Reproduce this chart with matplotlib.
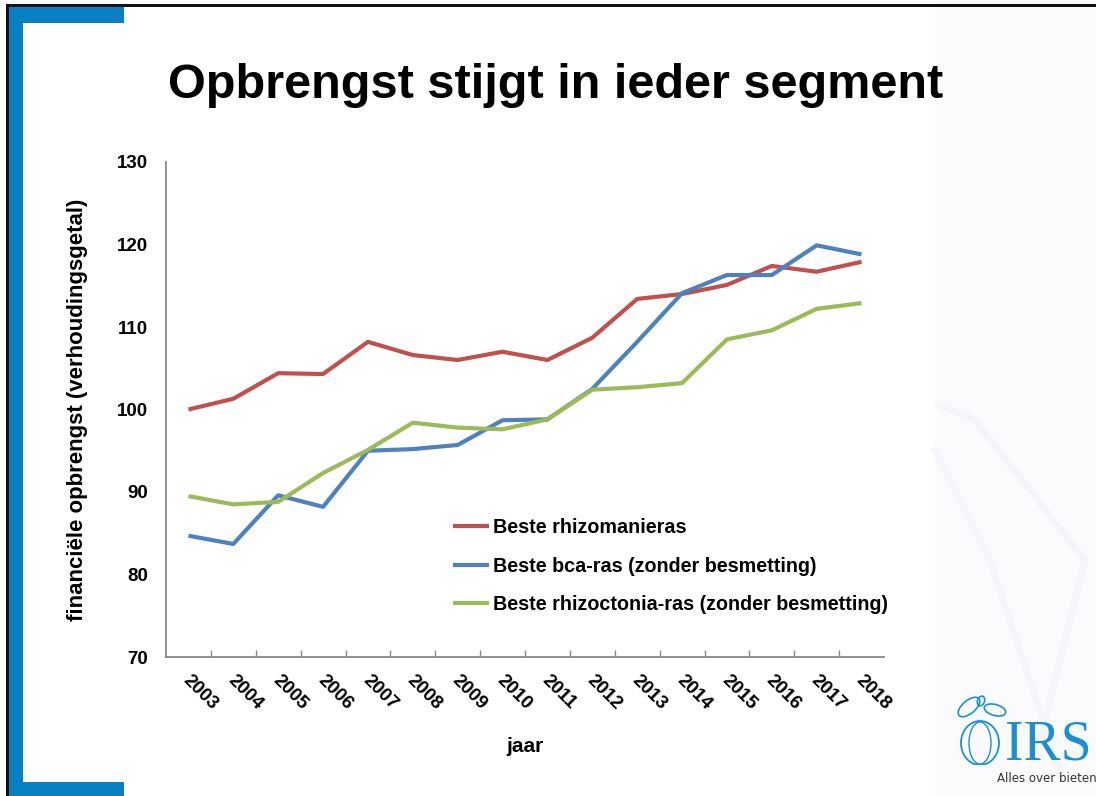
import matplotlib
matplotlib.use("Agg")
import matplotlib.pyplot as plt
import matplotlib.transforms as mtransforms
from matplotlib.patches import Rectangle, Ellipse
from matplotlib.lines import Line2D

years = [str(y) for y in range(2003, 2019)]
rhizomania = [100.0, 101.3, 104.4, 104.3, 108.2, 106.6, 106.0, 107.0, 106.0, 108.7,
              113.4, 114.0, 115.1, 117.4, 116.7, 117.9]
bca = [84.7, 83.7, 89.6, 88.2, 95.0, 95.2, 95.7, 98.7, 98.8, 102.5,
       108.2, 114.1, 116.3, 116.3, 119.9, 118.8]
rhizoctonia = [89.5, 88.5, 88.8, 92.3, 95.1, 98.4, 97.8, 97.6, 98.8, 102.4,
               102.7, 103.2, 108.5, 109.6, 112.2, 112.9]
series_labels = ["Beste rhizomanieras",
                 "Beste bca-ras (zonder besmetting)",
                 "Beste rhizoctonia-ras (zonder besmetting)"]
yticks = [70, 80, 90, 100, 110, 120, 130]

plt.rcParams['font.family'] = ['Liberation Sans', 'DejaVu Sans']

W, H = 1096, 796
fig = plt.figure(figsize=(W / 100, H / 100), dpi=100)
fig.patch.set_facecolor('white')

def px_rect(x0, y0, x1, y1, color, z=0):
    fig.patches.append(Rectangle((x0 / W, 1 - y1 / H), (x1 - x0) / W, (y1 - y0) / H,
                                 transform=fig.transFigure, color=color, zorder=z, lw=0))

px_rect(935, 0, W, H, '#fbfbfd')
px_rect(6, 4, W, 7, '#111111')
px_rect(6, 4, 9, H, '#111111')
blue = '#0a80c4'
px_rect(9, 7, 23, 796, blue)
px_rect(9, 7, 124, 23, blue)
px_rect(9, 782, 124, 796, blue)

# faint watermark strokes
for xs, ys in [([940, 975, 1085, 1035], [405, 420, 560, 760]),
               ([935, 990, 1060], [450, 560, 770])]:
    fig.add_artist(Line2D([x / W for x in xs], [1 - y / H for y in ys],
                          transform=fig.transFigure, color='#f5f6fa', lw=5, zorder=0.5))

ax = fig.add_axes([166 / W, 1 - 657 / H, (884 - 166) / W, (657 - 162) / H])
ax.set_facecolor('none')
ax.set_zorder(1)
x = list(range(len(years)))
colors = ['#C0504D', '#4F81BD', '#9BBB59']
for vals, c, lab in zip([rhizomania, bca, rhizoctonia], colors, series_labels):
    ax.plot(x, vals, color=c, lw=3, label=lab, solid_capstyle='butt')

ax.set_xlim(-0.5, len(years) - 0.5)
ax.set_ylim(70, 130)
ax.set_yticks(yticks)
ax.set_yticklabels([str(v) for v in yticks], fontsize=13.5, fontweight='bold')
ax.tick_params(axis='y', length=0, pad=13)

ax.set_xticks([i + 0.5 for i in range(len(years) - 1)], minor=True)
ax.tick_params(axis='x', which='minor', direction='in', length=5, color='#888888', width=1)
ax.set_xticks(x)
ax.set_xticklabels(years, fontsize=13.5, fontweight='bold', rotation=-45,
                   ha='left', va='center', rotation_mode='anchor')
ax.tick_params(axis='x', which='major', length=0, pad=15)
offset = mtransforms.ScaledTranslation(-2 / 72, 0, fig.dpi_scale_trans)
for lbl in ax.get_xticklabels():
    lbl.set_transform(lbl.get_transform() + offset)

for s in ['top', 'right']:
    ax.spines[s].set_visible(False)
for s in ['left', 'bottom']:
    ax.spines[s].set_color('#888888')
    ax.spines[s].set_linewidth(1.3)

ax.set_xlabel('jaar', fontsize=15, fontweight='bold')
ax.set_ylabel('financiële opbrengst (verhoudingsgetal)', fontsize=16, fontweight='bold')
ax.yaxis.set_label_coords((88 - 166) / (884 - 166), 0.5)
ax.xaxis.set_label_coords(0.5, -(737 - 657) / (657 - 162))

leg = ax.legend(loc='center left', bbox_to_anchor=(453 / W, 1 - 566 / H),
                bbox_transform=fig.transFigure, frameon=False,
                prop={'family': ['Liberation Sans'], 'weight': 'bold', 'size': 14.2},
                handlelength=1.85, handletextpad=0.2, labelspacing=1.0, borderpad=0,
                borderaxespad=0)

fig.text(556 / W, 1 - 85 / H, 'Opbrengst stijgt in ieder segment', fontsize=35,
         fontweight='bold', ha='center', va='center')

# logo
logo_c = '#1b8fd2'
fig.text(1048 / W, 1 - 745 / H, 'IRS', fontsize=40, family='Liberation Serif',
         color=logo_c, ha='center', va='center', zorder=3)
fig.text(1047 / W, 1 - 778 / H, 'Alles over bieten', fontsize=8.5, color='#333333',
         ha='center', va='center', family='Liberation Sans Narrow', zorder=3)
lax = fig.add_axes([953 / W, 1 - 765 / H, 55 / W, 74 / H])
lax.set_zorder(3)
lax.set_xlim(0, 55)
lax.set_ylim(0, 74)
lax.axis('off')
lax.add_patch(Ellipse((27, 22), 38, 44, fill=False, ec=logo_c, lw=1.3))
lax.add_patch(Ellipse((27, 22), 22, 42, fill=False, ec=logo_c, lw=1.0))
lax.add_patch(Ellipse((16, 58), 26, 13, angle=40, fill=False, ec=logo_c, lw=1.2))
lax.add_patch(Ellipse((42, 55), 22, 11, angle=-15, fill=False, ec=logo_c, lw=1.2))
lax.add_patch(Ellipse((28, 64), 10, 7, angle=70, fill=False, ec=logo_c, lw=1.2))

fig.savefig('out.png', dpi=100)
